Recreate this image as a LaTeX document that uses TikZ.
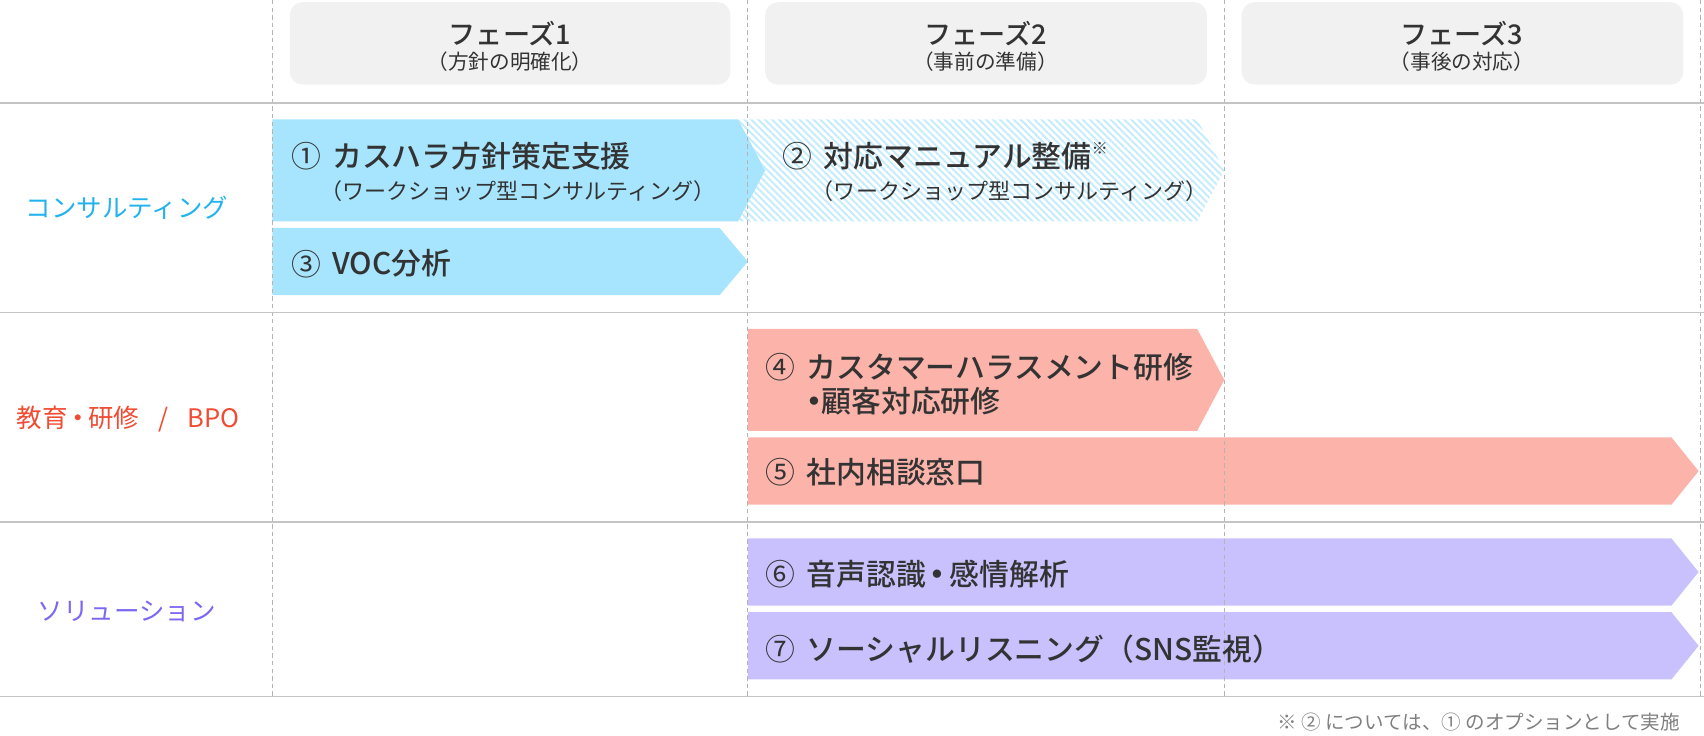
\documentclass[tikz,border=0pt]{standalone}
\usepackage{fontspec}
\setmainfont{Noto Sans CJK JP}[BoldFont={Noto Sans CJK JP Medium}]
\newfontfamily\paltfont{Noto Sans CJK JP Medium}[CharacterWidth=AlternateProportional]
\newcommand\nakaguro{\hspace{0.15em}{\paltfont ・}\hspace{0.15em}}
\usetikzlibrary{positioning,patterns.meta}

\definecolor{ink}{HTML}{333333}
\definecolor{phasegray}{HTML}{F1F1F1}
\definecolor{rulegray}{HTML}{C4C4C4}
\definecolor{colgray}{HTML}{B4B4B4}
\definecolor{skyfill}{HTML}{A6E5FD}
\definecolor{hatchblue}{HTML}{C4ECFC}
\definecolor{salmonfill}{HTML}{FBB3AA}
\definecolor{lilacfill}{HTML}{C9C1FD}
\definecolor{consultcol}{HTML}{22B3EE}
\definecolor{educol}{HTML}{F04B33}
\definecolor{solcol}{HTML}{7A67F2}
\definecolor{notegray}{HTML}{7F7F7F}

\begin{document}
\begin{tikzpicture}[x=1pt, y=-1pt, rowrule/.style={draw=rulegray, line width=1.2pt}, colline/.style={draw=colgray, dash pattern=on 4pt off 3pt, line width=0.7pt}, phasebox/.style={fill=phasegray, rounded corners=12pt}, phasetitle/.style={text=ink, inner sep=0pt, font=\bfseries\fontsize{25}{25}\selectfont}, phasesub/.style={text=ink, inner sep=0pt, font=\fontsize{19}{19}\selectfont}, rowlabel/.style={inner sep=0pt, font=\fontsize{23.5}{23.5}\selectfont}, itemnum/.style={text=ink, inner sep=0pt, anchor=west, font=\fontsize{27.5}{27.5}\selectfont}, itemtitle/.style={text=ink, inner sep=0pt, anchor=west, font=\bfseries\fontsize{27.5}{27.5}\selectfont}, itemsub/.style={text=ink, inner sep=0pt, anchor=west, xshift=-11pt, font=\fontsize{20.3}{20.3}\selectfont}, footnote/.style={text=notegray, inner sep=0pt, anchor=east, font=\fontsize{18}{18}\selectfont}]
      \useasboundingbox (0,0) rectangle (1570,678);

      % phase headers
      \fill[phasebox] (267,2) rectangle (673,78);
      \fill[phasebox] (705,2) rectangle (1112,78);
      \fill[phasebox] (1144,2) rectangle (1551,78);

      % consulting
      \fill[skyfill] (251,110) -- (680,110) -- (705,157) -- (680,204) -- (251,204) -- cycle;
      \fill[pattern={Lines[angle=-45,distance=4.5pt,line width=1.8pt]}, pattern color=hatchblue] (680,110) -- (1103,110) -- (1128,157) -- (1103,204) -- (680,204) -- (705,157) -- cycle;
      \fill[skyfill] (251,210) -- (663,210) -- (689,241) -- (663,272) -- (251,272) -- cycle;

      % education / BPO
      \fill[salmonfill] (689,303) -- (1103,303) -- (1128,350) -- (1103,397) -- (689,397) -- cycle;
      \fill[salmonfill] (689,403) -- (1540,403) -- (1565,434) -- (1540,465) -- (689,465) -- cycle;

      % solution
      \fill[lilacfill] (689,496) -- (1540,496) -- (1565,527) -- (1540,558) -- (689,558) -- cycle;
      \fill[lilacfill] (689,564) -- (1540,564) -- (1565,595) -- (1540,626) -- (689,626) -- cycle;

      % grid
      \draw[colline] (251,0) -- (251,642);
      \draw[colline] (689,0) -- (689,642);
      \draw[colline] (1128,0) -- (1128,642);
      \draw[colline] (1567,0) -- (1567,642);
      \draw[rowrule] (0,95) -- (1570,95);
      \draw[rowrule] (0,288) -- (1570,288);
      \draw[rowrule] (0,481) -- (1570,481);
      \draw[rowrule] (0,642) -- (1570,642);

      \node[phasetitle] (ph1) at (470,31) {フェーズ1};
      \node[phasesub, below=5pt of ph1] (ph1s) {（方針の明確化）};
      \node[phasetitle] (ph2) at (908,31) {フェーズ2};
      \node[phasesub, below=5pt of ph2] (ph2s) {（事前の準備）};
      \node[phasetitle] (ph3) at (1347,31) {フェーズ3};
      \node[phasesub, below=5pt of ph3] (ph3s) {（事後の対応）};

      \node[rowlabel, text=consultcol] (row1) at (117,191) {コンサルティング};
      \node[rowlabel, text=educol] (row2) at (118,386) {教育\nakaguro 研修\hspace{0.75em}/\hspace{0.75em}BPO};
      \node[rowlabel, text=solcol] (row3) at (117,563) {ソリューション};

      \node[itemnum] (n1) at (268,144) {①};
      \node[itemtitle, right=10pt of n1] (t1) {カスハラ方針策定支援};
      \node[itemsub] (s1) at (t1.west |- 0,176) {（ワークショップ型コンサルティング）};
      \node[itemnum] (n2) at (721,144) {②};
      \node[itemtitle, right=10pt of n2] (t2) {対応マニュアル整備\raisebox{0.45em}{\mdseries\fontsize{15}{15}\selectfont ※}};
      \node[itemsub] (s2) at (t2.west |- 0,176) {（ワークショップ型コンサルティング）};
      \node[itemnum] (n3) at (268,243) {③};
      \node[itemtitle, right=10pt of n3] (t3) {VOC分析};
      \node[itemnum] (n4) at (705,338) {④};
      \node[itemtitle, right=10pt of n4] (t4) {カスタマーハラスメント研修};
      \node[itemtitle] (t4b) at (t4.west |- 0,370) {{\paltfont ・}顧客対応研修};
      \node[itemnum] (n5) at (705,435) {⑤};
      \node[itemtitle, right=10pt of n5] (t5) {社内相談窓口};
      \node[itemnum] (n6) at (705,529) {⑥};
      \node[itemtitle, right=10pt of n6] (t6) {音声認識\nakaguro 感情解析};
      \node[itemnum] (n7) at (705,598) {⑦};
      \node[itemtitle, right=10pt of n7] (t7) {ソーシャルリスニング（SNS監視）};

      \node[footnote] (note) at (1548,665) {※ ② については、① のオプションとして実施};
    \end{tikzpicture}
\end{document}
